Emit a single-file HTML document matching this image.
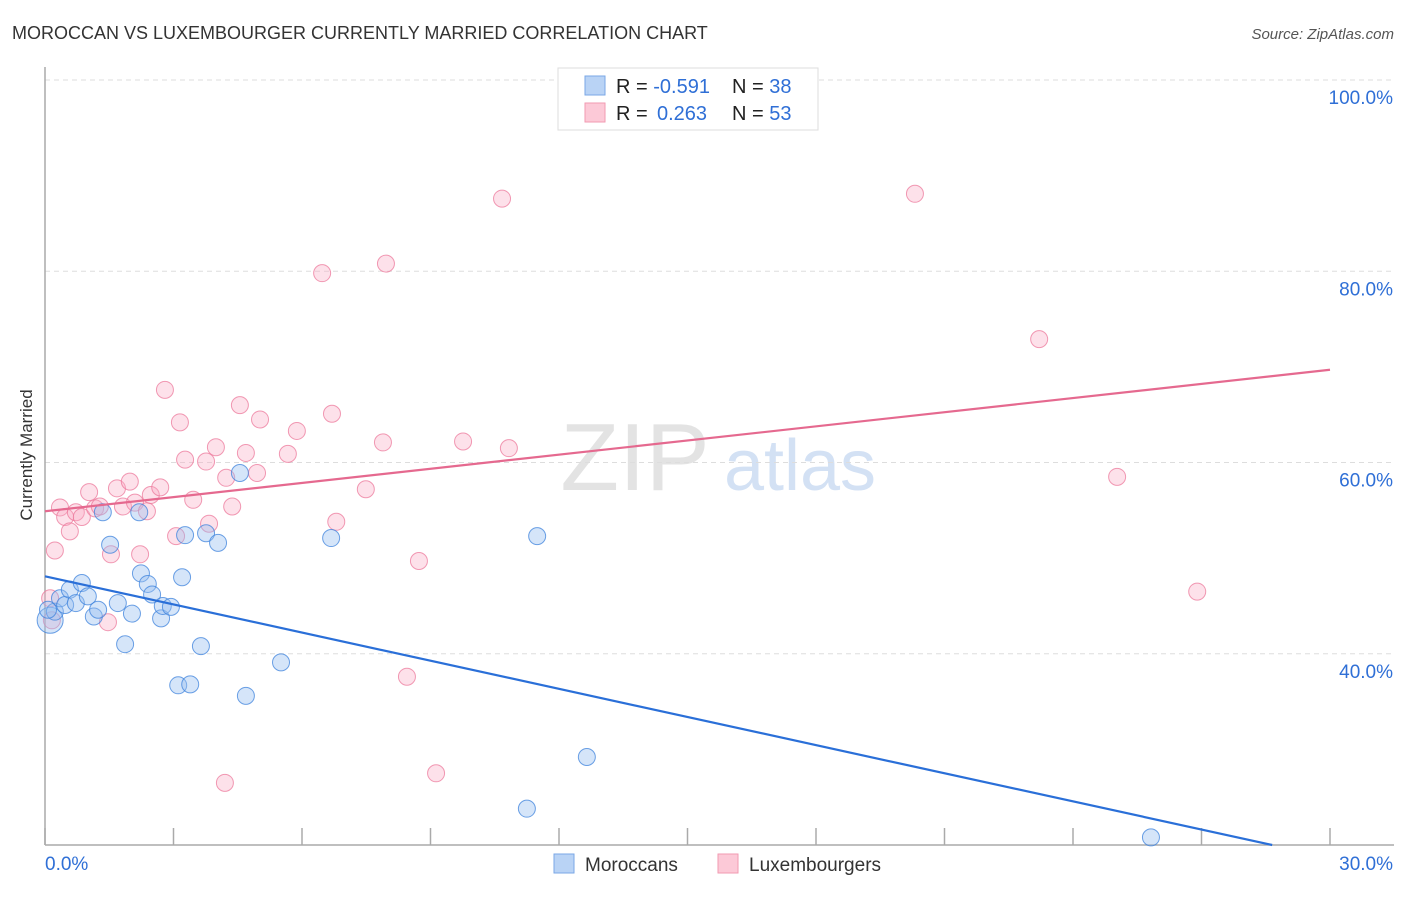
<!DOCTYPE html>
<html><head><meta charset="utf-8"><style>
body{margin:0;background:#fff;font-family:"Liberation Sans",sans-serif;}
svg text{font-family:"Liberation Sans",sans-serif;}
</style></head><body>
<svg width="1406" height="892" xmlns="http://www.w3.org/2000/svg" id="chart">
<text x="12" y="39" font-size="18" fill="#333">MOROCCAN VS LUXEMBOURGER CURRENTLY MARRIED CORRELATION CHART</text>
<text x="1394" y="39" font-size="15" fill="#555" font-style="italic" text-anchor="end">Source: ZipAtlas.com</text>
<text x="32" y="455" font-size="17" fill="#333" text-anchor="middle" transform="rotate(-90 32 455)">Currently Married</text>
<g>
<text x="635" y="490" font-size="96" fill="#ddd" font-family="Liberation Serif" text-anchor="middle" opacity="0.8">ZIP</text>
<text x="800" y="490" font-size="72" fill="#c9daf2" text-anchor="middle" opacity="0.8">atlas</text>
</g>
<g id="grid"></g>
<g id="axes"></g>
<g id="marks"></g>
<g>
<rect x="558" y="68" width="260" height="62" fill="#fff" stroke="#ddd"/>
<rect x="585" y="76" width="20" height="19" fill="#b9d3f5" stroke="#7aa7e6"/>
<rect x="585" y="103" width="20" height="19" fill="#fcc9d7" stroke="#f29ab2"/>
<text x="616" y="93" font-size="20" fill="#222">R = <tspan fill="#2f6fd6">-0.591</tspan><tspan x="732">N = </tspan><tspan fill="#2f6fd6">38</tspan></text>
<text x="616" y="120" font-size="20" fill="#222">R = <tspan fill="#2f6fd6" x="657">0.263</tspan><tspan x="732">N = </tspan><tspan fill="#2f6fd6">53</tspan></text>
</g>
<g>
<rect x="554" y="854" width="20" height="19" fill="#b9d3f5" stroke="#7aa7e6"/>
<text x="585" y="871" font-size="19" fill="#333">Moroccans</text>
<rect x="718" y="854" width="20" height="19" fill="#fcc9d7" stroke="#f29ab2"/>
<text x="749" y="871" font-size="19" fill="#333">Luxembourgers</text>
</g>
</svg>
<script>
const yTicks=[40,60,80,100];
const yTickLabels=["40.0%","60.0%","80.0%","100.0%"];
const xTicks=[0,3,6,9,12,15,18,21,24,27,30];
const blueX=[0.12,0.23,0.35,0.47,0.58,0.72,0.86,1.00,1.14,1.24,1.35,1.52,1.70,1.87,2.03,2.20,2.24,2.40,2.50,2.71,2.75,2.94,3.11,3.20,3.27,3.39,3.64,3.76,4.04,4.55,4.69,5.51,6.68,11.25,11.49,12.65,25.82,0.07];
const blueY=[43.5,44.4,45.8,45.1,46.7,45.3,47.4,46.0,43.9,44.6,54.8,51.4,45.3,41.0,44.2,54.8,48.4,47.3,46.2,43.7,45.0,44.9,36.7,48.0,52.4,36.8,40.8,52.6,51.6,58.9,35.6,39.1,52.1,23.8,52.3,29.2,20.8,44.6];
const pinkX=[0.12,0.16,0.23,0.35,0.47,0.58,0.72,0.86,1.03,1.17,1.28,1.47,1.54,1.68,1.82,1.98,2.10,2.22,2.38,2.47,2.69,2.80,3.06,3.15,3.27,3.46,3.76,3.83,3.99,4.23,4.37,4.20,4.55,4.69,4.95,5.02,5.67,5.88,6.47,6.70,6.80,7.49,7.89,7.96,8.45,8.73,9.13,9.76,10.67,10.83,20.31,23.21,25.03,26.90];
const pinkY=[45.8,43.5,50.8,55.3,54.3,52.8,54.8,54.3,56.9,55.2,55.4,43.3,50.4,57.3,55.4,58.0,55.8,50.4,54.9,56.6,57.4,67.6,52.3,64.2,60.3,56.1,60.1,53.6,61.6,58.4,55.4,26.5,66.0,61.0,58.9,64.5,60.9,63.3,79.8,65.1,53.8,57.2,62.1,80.8,37.6,49.7,27.5,62.2,87.6,61.5,88.1,72.9,58.5,46.5];
const blueLine=[[0,48.1],[28.65,20]];
const pinkLine=[[0,54.9],[30,69.7]];
const NS="http://www.w3.org/2000/svg";
const X0=45,X1=1330,YB=845,YT=80;
function sx(v){return X0+(v/30)*(X1-X0);}
function sy(v){return YB-(v-20)/80*(YB-YT);}
function mk(t,a,p){const e=document.createElementNS(NS,t);for(const k in a)e.setAttribute(k,a[k]);p.appendChild(e);return e;}
const grid=document.getElementById('grid'),axes=document.getElementById('axes'),marks=document.getElementById('marks');
yTicks.forEach((t,i)=>{
 const l=mk('line',{x1:X0,x2:1394,y1:sy(t),y2:sy(t),stroke:'#ddd','stroke-dasharray':'5,4'},grid);
 
 
 const tx=mk('text',{x:1393,y:sy(t)+24,'font-size':19,fill:'#2f6fd6','text-anchor':'end'},axes);
 tx.textContent=yTickLabels[i];
 
 
});
const ya=mk('line',{x1:X0,x2:X0,y1:67,y2:YB,stroke:'#aaa','stroke-width':1.5},axes);


const xa=mk('line',{x1:X0,x2:1394,y1:YB,y2:YB,stroke:'#aaa','stroke-width':1.5},axes);


xTicks.forEach(t=>{
 const l=mk('line',{x1:sx(t),x2:sx(t),y1:YB,y2:828,stroke:'#aaa','stroke-width':1.5},axes);
 
 
});
const xl0=mk('text',{x:45,y:870,'font-size':19,fill:'#2f6fd6'},axes);xl0.textContent='0.0%';


const xl1=mk('text',{x:1393,y:870,'font-size':19,fill:'#2f6fd6','text-anchor':'end'},axes);xl1.textContent='30.0%';


pinkX.forEach((v,i)=>{
 const c=mk('circle',{cx:sx(v),cy:sy(pinkY[i]),r:8.5,fill:'rgba(248,170,195,0.35)',stroke:'rgba(236,120,155,0.75)','stroke-width':1},marks);
 
 
});
blueX.forEach((v,i)=>{
 const c=mk('circle',{cx:sx(v),cy:sy(blueY[i]),r:i===0?13:8.5,fill:'rgba(150,190,240,0.4)',stroke:'rgba(60,130,220,0.75)','stroke-width':1},marks);
 
 
});
const bl=mk('line',{x1:sx(blueLine[0][0]),y1:sy(blueLine[0][1]),x2:sx(blueLine[1][0]),y2:sy(blueLine[1][1]),stroke:'#2a6fd8','stroke-width':2.2},marks);


const pl=mk('line',{x1:sx(pinkLine[0][0]),y1:sy(pinkLine[0][1]),x2:sx(pinkLine[1][0]),y2:sy(pinkLine[1][1]),stroke:'#e5698f','stroke-width':2.2},marks);


</script>
</body></html>
